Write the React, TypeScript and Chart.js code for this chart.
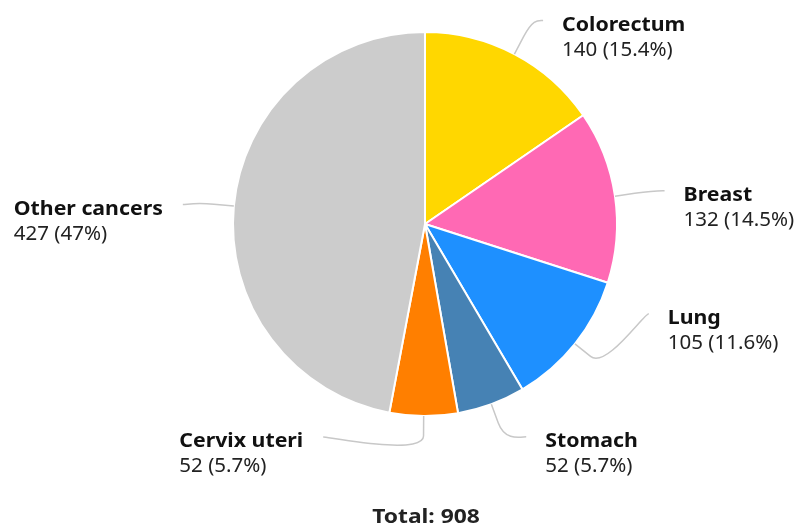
import React, { useEffect, useRef } from 'react';
import { Chart, registerables } from 'chart.js';

Chart.register(...registerables);

const categories = ['Colorectum', 'Breast', 'Lung', 'Stomach', 'Cervix uteri', 'Other cancers'];
const values = [140, 132, 105, 52, 52, 427];
const colors = ['#FFD700', '#FF69B4', '#1E90FF', '#4682B4', '#FF7F00', '#CCCCCC'];

const FONT = '"Noto Sans", "Open Sans", sans-serif';
const LABEL_SHIFTS = [0, 0, -54, -3, -17, 2];
const LABEL_DX = [1, 2, 2, 4, -5, -3];
const NAME_FONT = `bold 19px ${FONT}`;
const VALUE_FONT = `19px ${FONT}`;
const TOTAL_FONT = `bold 19px ${FONT}`;
const NAME_SX = 1.12;
const VALUE_SX = 1.08;
const TOTAL_SX = 1.2;

function fmtPct(v: number, total: number): string {
  return String(parseFloat(((v / total) * 100).toFixed(1)));
}

function drawText(ctx: CanvasRenderingContext2D, text: string, x: number, y: number, sx: number) {
  ctx.save();
  ctx.translate(x, y);
  ctx.scale(sx, 1);
  ctx.fillText(text, 0, 0);
  ctx.restore();
}

const labelPlugin = {
  id: 'pieLabels',
  afterDraw(chart: any) {
    const ctx: CanvasRenderingContext2D = chart.ctx;
    const meta = chart.getDatasetMeta(0);
    const total = values.reduce((a, b) => a + b, 0);
    ctx.save();
    let centerX = 0;
    meta.data.forEach((arc: any, i: number) => {
      const p = arc.getProps(['x', 'y', 'outerRadius', 'startAngle', 'endAngle'], true);
      const cx = p.x, cy = p.y, r = p.outerRadius;
      centerX = cx;
      const mid = (p.startAngle + p.endAngle) / 2;
      const cos = Math.cos(mid), sin = Math.sin(mid);
      const R = r + 38;
      const right = cos >= 0;
      const ty = cy + R * sin + LABEL_SHIFTS[i];
      const dy = ty - cy;
      const dx = Math.sqrt(Math.max(0, R * R - dy * dy)) + 10;
      const ex = (right ? cx + dx : cx - dx) + LABEL_DX[i];
      const touch = { x: cx + r * cos, y: cy + r * sin };
      const brk = { x: cx + (r + 20) * cos, y: cy + (r + 20) * sin };
      ctx.beginPath();
      ctx.moveTo(ex, ty);
      ctx.bezierCurveTo(ex + (right ? -5 : 5), ty, 2 * brk.x - touch.x, 2 * brk.y - touch.y, brk.x, brk.y);
      ctx.lineTo(touch.x, touch.y);
      ctx.strokeStyle = '#c8c8c8';
      ctx.lineWidth = 1.5;
      ctx.stroke();

      const name = categories[i];
      const val = `${values[i]} (${fmtPct(values[i], total)}%)`;
      ctx.textBaseline = 'middle';
      ctx.textAlign = 'left';
      ctx.font = NAME_FONT;
      const w1 = ctx.measureText(name).width * NAME_SX;
      ctx.font = VALUE_FONT;
      const w2 = ctx.measureText(val).width * VALUE_SX;
      const tx = right ? ex + 19 : ex - 20 - Math.max(w1, w2);
      ctx.fillStyle = '#111111';
      ctx.font = NAME_FONT;
      drawText(ctx, name, tx, ty + 5, NAME_SX);
      ctx.font = VALUE_FONT;
      ctx.fillStyle = '#222222';
      drawText(ctx, val, tx, ty + 30, VALUE_SX);
    });
    ctx.font = TOTAL_FONT;
    ctx.textAlign = 'center';
    ctx.textBaseline = 'middle';
    ctx.fillStyle = '#222222';
    drawText(ctx, `Total: ${total}`, centerX + 1, 518, TOTAL_SX);
    ctx.restore();
  },
};

export default function App() {
  const ref = useRef<HTMLCanvasElement>(null);
  useEffect(() => {
    if (!ref.current) return;
    const chart = new Chart(ref.current, {
      type: 'pie',
      data: {
        labels: categories,
        datasets: [
          {
            data: values,
            backgroundColor: colors,
            borderColor: '#ffffff',
            borderWidth: 2,
          },
        ],
      },
      options: {
        responsive: false,
        animation: false,
        devicePixelRatio: 1,
        layout: { padding: { top: 31, bottom: 113, left: 232, right: 182 } },
        plugins: {
          legend: { display: false },
          tooltip: { enabled: false },
          title: { display: false },
        },
      },
      plugins: [labelPlugin],
    });
    return () => chart.destroy();
  }, []);
  return (
    <div style={{ position: 'fixed', left: 0, top: 0, width: 800, height: 530, background: '#fff' }}>
      <canvas ref={ref} width={800} height={530} />
    </div>
  );
}
